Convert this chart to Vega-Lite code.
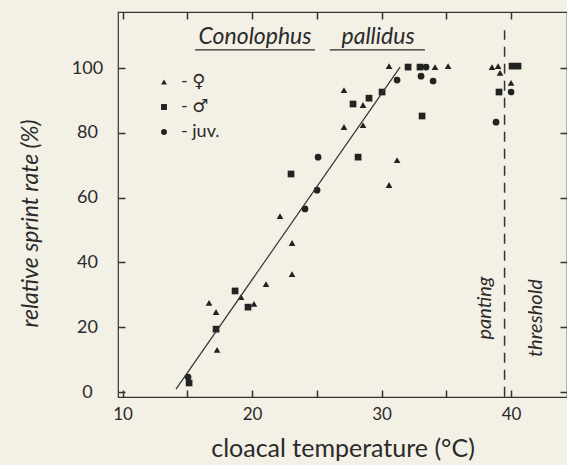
{
  "$schema": "https://vega.github.io/schema/vega-lite/v6.json",
  "width": 449,
  "height": 385,
  "autosize": {"type": "none"},
  "padding": {"left": 118, "top": 12, "right": 0, "bottom": 68},
  "background": "#f3f0e6",
  "config": {
    "view": {"stroke": "#333333", "strokeWidth": 1.2},
    "font": "Lato",
    "axis": {
      "domain": false,
      "grid": false,
      "ticks": true,
      "tickColor": "#333333",
      "tickWidth": 1.5,
      "labelColor": "#2a2a2a",
      "titleColor": "#2a2a2a",
      "labelFont": "Lato",
      "titleFont": "Lato",
      "labelFontSize": 17,
      "titleFontWeight": "normal"
    }
  },
  "resolve": {"axis": {"x": "independent", "y": "independent"}},
  "layer": [
    {
      "data": {
        "values": [
          {"t": 16.68, "r": 27.5, "g": "♀"},
          {"t": 17.22, "r": 24.7, "g": "♀"},
          {"t": 17.30, "r": 13.0, "g": "♀"},
          {"t": 19.15, "r": 29.3, "g": "♀"},
          {"t": 20.15, "r": 27.2, "g": "♀"},
          {"t": 21.08, "r": 33.3, "g": "♀"},
          {"t": 23.09, "r": 36.4, "g": "♀"},
          {"t": 23.09, "r": 46.0, "g": "♀"},
          {"t": 22.16, "r": 54.3, "g": "♀"},
          {"t": 30.58, "r": 63.9, "g": "♀"},
          {"t": 31.20, "r": 71.6, "g": "♀"},
          {"t": 27.10, "r": 81.8, "g": "♀"},
          {"t": 28.57, "r": 82.4, "g": "♀"},
          {"t": 28.57, "r": 88.6, "g": "♀"},
          {"t": 27.10, "r": 93.2, "g": "♀"},
          {"t": 30.58, "r": 100.6, "g": "♀"},
          {"t": 34.13, "r": 100.3, "g": "♀"},
          {"t": 35.14, "r": 100.6, "g": "♀"},
          {"t": 38.53, "r": 100.3, "g": "♀"},
          {"t": 39.00, "r": 100.6, "g": "♀"},
          {"t": 39.15, "r": 98.5, "g": "♀"},
          {"t": 40.00, "r": 95.4, "g": "♀"},
          {"t": 15.14, "r": 2.8, "g": "♂"},
          {"t": 17.22, "r": 19.4, "g": "♂"},
          {"t": 18.69, "r": 31.2, "g": "♂"},
          {"t": 19.69, "r": 26.2, "g": "♂"},
          {"t": 23.01, "r": 67.3, "g": "♂"},
          {"t": 28.19, "r": 72.5, "g": "♂"},
          {"t": 27.80, "r": 88.9, "g": "♂"},
          {"t": 29.03, "r": 90.7, "g": "♂"},
          {"t": 30.04, "r": 92.6, "g": "♂"},
          {"t": 32.05, "r": 100.3, "g": "♂"},
          {"t": 32.97, "r": 100.3, "g": "♂"},
          {"t": 33.13, "r": 85.2, "g": "♂"},
          {"t": 40.08, "r": 100.6, "g": "♂"},
          {"t": 40.54, "r": 100.6, "g": "♂"},
          {"t": 39.07, "r": 92.6, "g": "♂"},
          {"t": 15.06, "r": 4.6, "g": "juv."},
          {"t": 24.09, "r": 56.5, "g": "juv."},
          {"t": 25.02, "r": 62.3, "g": "juv."},
          {"t": 25.10, "r": 72.5, "g": "juv."},
          {"t": 31.20, "r": 96.3, "g": "juv."},
          {"t": 33.44, "r": 100.3, "g": "juv."},
          {"t": 33.05, "r": 97.5, "g": "juv."},
          {"t": 33.98, "r": 96.0, "g": "juv."},
          {"t": 40.00, "r": 92.6, "g": "juv."},
          {"t": 38.84, "r": 83.3, "g": "juv."}
        ]
      },
      "mark": {"type": "point", "filled": true, "color": "#222222", "size": 45, "opacity": 1},
      "encoding": {
        "x": {
          "field": "t", "type": "quantitative",
          "scale": {"domain": [9.65, 44.32], "nice": false, "zero": false},
          "axis": {
            "orient": "top",
            "offset": -385,
            "values": [10, 15, 20, 25, 30, 35, 40],
            "labelExpr": "datum.value % 10 === 0 ? datum.label : ''",
            "ticks": true,
            "tickSize": 7,
            "labelBaseline": "middle",
            "labelPadding": -24,
            "labelFontSize": 17,
            "title": "cloacal temperature (°C)",
            "titleFontSize": 25,
            "titleBaseline": "middle",
            "titleAngle": 0,
            "titleX": 224.5,
            "titleY": 51
          }
        },
        "y": {
          "field": "r", "type": "quantitative",
          "scale": {"domain": [-1.54, 117.3], "nice": false, "zero": false},
          "axis": {
            "orient": "right",
            "offset": -449,
            "values": [0, 20, 40, 60, 80, 100],
            "ticks": true,
            "tickSize": 7,
            "labelAlign": "center",
            "labelBaseline": "middle",
            "labelPadding": -38,
            "labelFontSize": 18,
            "title": "relative sprint rate (%)",
            "titleFontSize": 23,
            "titleFontStyle": "italic",
            "titleBaseline": "middle",
            "titleAlign": "center",
            "titleAngle": 270,
            "titleX": -88,
            "titleY": 211
          }
        },
        "shape": {
          "field": "g", "type": "nominal",
          "scale": {"domain": ["♀", "♂", "juv."], "range": ["triangle-up", "square", "circle"]},
          "legend": {
            "orient": "none",
            "legendX": 37,
            "legendY": 61,
            "title": null,
            "padding": 0,
            "labelExpr": "'-  ' + datum.label",
            "symbolSize": 35,
            "symbolFillColor": "#222222",
            "symbolStrokeColor": "#222222",
            "symbolStrokeWidth": 0,
            "labelFontSize": 18,
            "labelColor": "#2a2a2a",
            "labelFont": "Lato, DejaVu Sans",
            "labelOffset": 8,
            "rowPadding": 7
          }
        }
      }
    },
    {
      "data": {"values": [{"t": 14.13, "r": 0.9}, {"t": 31.43, "r": 100.3}]},
      "mark": {"type": "line", "color": "#333333", "strokeWidth": 1.2},
      "encoding": {
        "x": {
          "field": "t", "type": "quantitative",
          "axis": {"orient": "bottom", "offset": -385, "values": [10, 15, 20, 25, 30, 35, 40], "labels": false, "ticks": true, "tickSize": 7, "title": null}
        },
        "y": {
          "field": "r", "type": "quantitative",
          "axis": {"orient": "left", "offset": -449, "values": [0, 20, 40, 60, 80, 100], "labels": false, "ticks": true, "tickSize": 7, "title": null}
        }
      }
    },
    {
      "data": {"values": [{"t": 39.5, "r1": -1.5, "r2": 111.7}]},
      "mark": {"type": "rule", "color": "#333333", "strokeWidth": 1.5, "strokeDash": [10, 7]},
      "encoding": {
        "x": {"field": "t", "type": "quantitative", "axis": null},
        "y": {"field": "r1", "type": "quantitative", "axis": null},
        "y2": {"field": "r2"}
      }
    },
    {
      "data": {"values": [{"t": 38.0, "r": 25.9, "label": "panting"}, {"t": 41.93, "r": 22.8, "label": "threshold"}]},
      "mark": {"type": "text", "angle": 270, "align": "center", "baseline": "middle", "fontSize": 20, "fontStyle": "italic", "color": "#2a2a2a", "font": "Lato"},
      "encoding": {
        "x": {"field": "t", "type": "quantitative", "axis": null},
        "y": {"field": "r", "type": "quantitative", "axis": null},
        "text": {"field": "label"}
      }
    },
    {
      "data": {"values": [{"t": 20.23, "r": 107.4, "label": "Conolophus"}, {"t": 29.73, "r": 107.4, "label": "pallidus"}]},
      "mark": {"type": "text", "align": "center", "baseline": "alphabetic", "fontSize": 23, "fontStyle": "italic", "color": "#2a2a2a", "font": "Lato"},
      "encoding": {
        "x": {"field": "t", "type": "quantitative", "axis": null},
        "y": {"field": "r", "type": "quantitative", "axis": null},
        "text": {"field": "label"}
      }
    },
    {
      "data": {"values": [{"t1": 15.6, "t2": 24.86, "r": 105.6}, {"t1": 26.0, "t2": 33.35, "r": 105.6}]},
      "mark": {"type": "rule", "color": "#2a2a2a", "strokeWidth": 1.3},
      "encoding": {
        "x": {"field": "t1", "type": "quantitative", "axis": null},
        "x2": {"field": "t2"},
        "y": {"field": "r", "type": "quantitative", "axis": null}
      }
    }
  ]
}
